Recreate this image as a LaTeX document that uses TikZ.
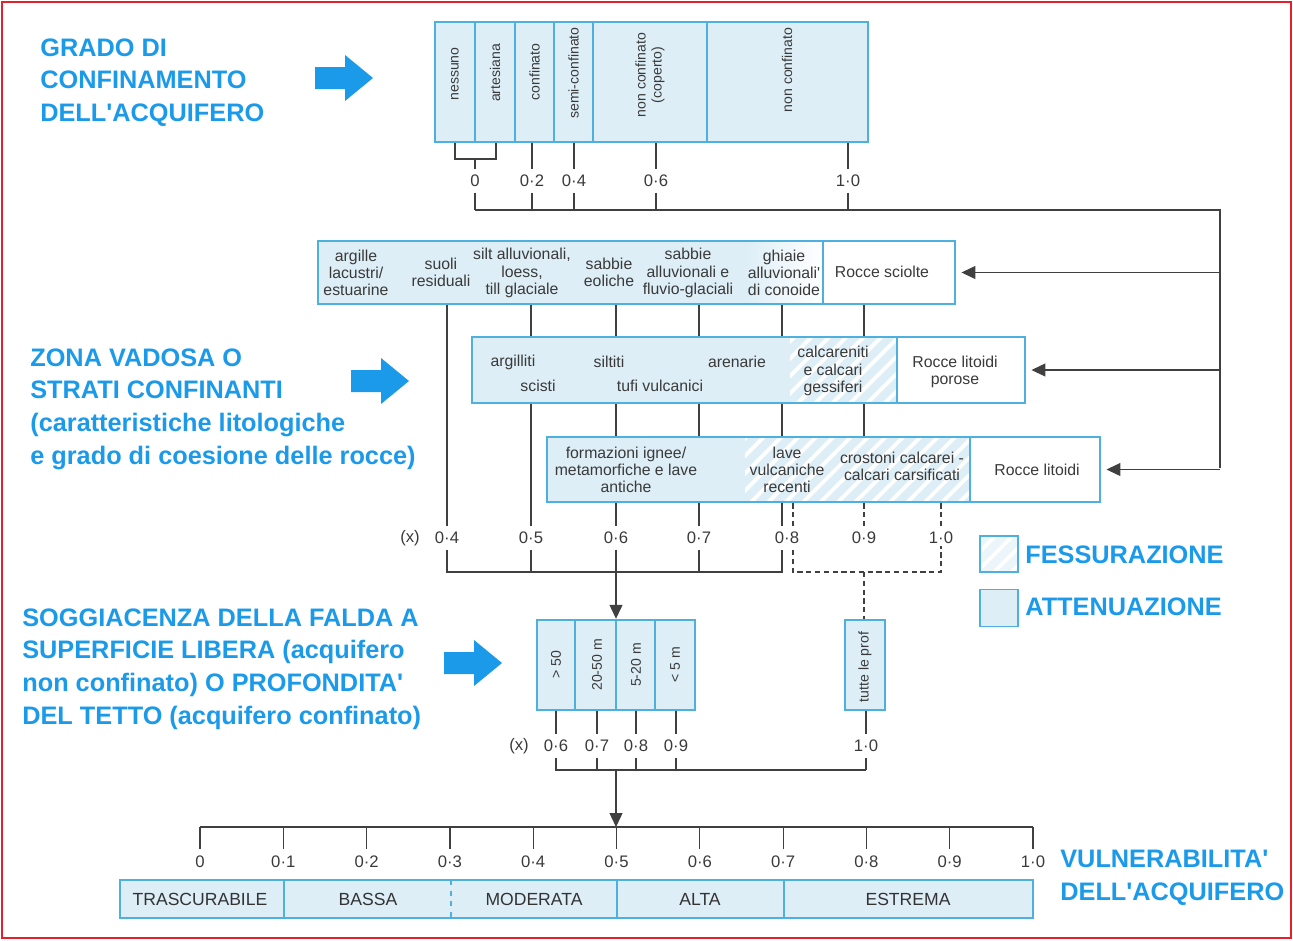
\documentclass[tikz,border=0pt]{standalone}
\usepackage{fontspec}
\setmainfont{Liberation Sans}
\usetikzlibrary{arrows.meta,positioning,patterns.meta,calc}
\definecolor{vuBlue}{HTML}{1C9AEA}
\definecolor{vuCell}{HTML}{DDEEF7}
\definecolor{vuEdge}{HTML}{4DB0DE}
\definecolor{vuInk}{HTML}{3A3A3A}
\definecolor{vuFrame}{HTML}{E5202A}

\begin{document}
\begin{tikzpicture}[x=0.02cm, y=-0.02cm,
  heading/.style={text=vuBlue, font=\fontsize{14.4}{18.6}\selectfont\bfseries, align=left, anchor=north west, inner sep=0pt},
  boxframe/.style={draw=vuEdge, line width=1.4pt, inner sep=0pt},
  lbl/.style={text=vuInk, font=\fontsize{9}{9.8}\selectfont, align=center, inner sep=0pt},
  vlbl/.style={lbl, font=\fontsize{8}{9.2}\selectfont, rotate=90},
  val/.style={text=vuInk, font=\fontsize{9.5}{11}\selectfont, inner sep=1pt},
  cls/.style={text=black!80, font=\fontsize{10}{12}\selectfont, inner sep=0pt},
  div/.style={draw=vuEdge, line width=0.8pt},
  lin/.style={draw=black!75, line width=0.7pt},
  dsh/.style={lin, dash pattern=on 3pt off 2pt},
  arr/.style={lin, -{Triangle[length=2.8mm, width=2.6mm]}},
  crack/.style={pattern={Lines[angle=45, distance=7pt, line width=2.2pt]}, pattern color=white},
  fatarrow/.pic={\fill[vuBlue] (0,-11) -- (30,-11) -- (30,-23) -- (58,0) -- (30,23) -- (30,11) -- (0,11) -- cycle;}
]
\useasboundingbox (0,0) rectangle (1293,940);
\draw[vuFrame, line width=1.2pt] (2,2) rectangle (1291,938);

\node[heading] (grado) at (40,38) {GRADO DI\\CONFINAMENTO\\DELL\textquotesingle ACQUIFERO};
\node[heading] (zona) at (30,348) {ZONA VADOSA O\\STRATI CONFINANTI\\(caratteristiche litologiche\\e grado di coesione delle rocce)};
\node[heading] (sogg) at (22,608) {SOGGIACENZA DELLA FALDA A\\SUPERFICIE LIBERA (acquifero\\non confinato) O PROFONDITA\textquotesingle\\DEL TETTO (acquifero confinato)};
\node[heading] (vuln) at (1060,850) {VULNERABILITA\textquotesingle\\DELL\textquotesingle ACQUIFERO};
\pic at (315,78) {fatarrow};
\pic at (351,381) {fatarrow};
\pic at (444,663) {fatarrow};

% grado di confinamento
\fill[vuCell] (435,22) rectangle (868,142);
\foreach \x in {475,515,554,593,707} \draw[div] (\x,22) -- (\x,142);
\node[boxframe, minimum width=8.66cm, minimum height=2.4cm] (conf) at (651.5,82) {};
\node[vlbl] (nessuno) at (455,74) {nessuno};
\node[vlbl] (artes) at (495,73) {artesiana};
\node[vlbl] (confin) at (534.5,72) {confinato};
\node[vlbl] (semi) at (573.5,73) {semi-confinato};
\node[vlbl] (coperto) at (650,75) {non confinato\\(coperto)};
\node[vlbl] (libero) at (787,70) {non confinato};

\node[val] (g0) at (475,181) {0};
\node[val] (g2) at (532,181) {0·2};
\node[val] (g4) at (574,181) {0·4};
\node[val] (g6) at (656,181) {0·6};
\node[val] (g10) at (848,181) {1·0};
\draw[lin] (nessuno |- conf.south) -- (nessuno |- 0,159) -- (496,159) -- (496,0 |- conf.south);
\draw[lin, shorten >=2pt] (g0 |- 0,159) -- (g0.north);
\foreach \v in {g2,g4,g6,g10} \draw[lin, shorten >=2pt] (\v |- conf.south) -- (\v.north);
\coordinate (bus) at (1220,210);
\foreach \v in {g0,g2,g4,g6,g10} \draw[lin, shorten <=2pt] (\v.south) -- (\v |- bus);
\draw[lin] (g0 |- bus) -- (bus) -- (1220,468);

% zona vadosa
\fill[vuCell] (318,241) rectangle (745,304);
\shade[left color=vuCell, right color=white] (745,241) rectangle (823,304);
\draw[div] (823,241) -- (823,304);
\node[boxframe, minimum width=12.74cm, minimum height=1.26cm] (sciolte) at (636.5,272.5) {};
\node[lbl] (argille) at (356,273) {argille\\lacustri/\\estuarine};
\node[lbl] (suoli) at (441,272) {suoli\\residuali};
\node[lbl] (silt) at (522,273) {silt alluvionali,\\loess,\\till glaciale};
\node[lbl] (eoliche) at (609,272) {sabbie\\eoliche};
\node[lbl] (fluvio) at (688,273) {sabbie\\alluvionali e\\fluvio-glaciali};
\node[lbl] (ghiaie) at (784,273) {ghiaie\\alluvionali\textquotesingle\\di conoide};
\node[lbl] (rsciolte) at (882,272) {Rocce sciolte};

\fill[vuCell] (472,337) rectangle (897,403);
\fill[crack] (790,337) rectangle (897,403);
\draw[div] (897,337) -- (897,403);
\node[boxframe, minimum width=11.06cm, minimum height=1.32cm] (porose) at (748.5,370) {};
\node[lbl] (argilliti) at (513,362) {argilliti};
\node[lbl] (scisti) at (538,386) {scisti};
\node[lbl] (siltiti) at (609,362) {siltiti};
\node[lbl] (tufi) at (660,386) {tufi vulcanici};
\node[lbl] (arenarie) at (737,362) {arenarie};
\node[lbl] (calcar) at (833,371) {calcareniti\\e calcari\\gessiferi};
\node[lbl] (rporose) at (955,372) {Rocce litoidi\\porose};

\fill[vuCell] (547,437) rectangle (970,502);
\fill[crack] (745,437) rectangle (970,502);
\draw[div] (970,437) -- (970,502);
\node[boxframe, minimum width=11.06cm, minimum height=1.3cm] (litoidi) at (823.5,469.5) {};
\node[lbl] (ignee) at (626,470) {formazioni ignee/\\metamorfiche e lave\\antiche};
\node[lbl] (lave) at (787,470) {lave\\vulcaniche\\recenti};
\node[lbl] (crostoni) at (902,466) {crostoni calcarei -\\calcari carsificati};
\node[lbl] (rlitoidi) at (1037,470) {Rocce litoidi};

\draw[arr, shorten >=3pt] (bus |- sciolte.east) -- (sciolte.east);
\draw[arr, shorten >=3pt] (bus |- porose.east) -- (porose.east);
\draw[arr, shorten >=3pt] (bus |- litoidi.east) -- (litoidi.east);

\node[val] (sx) at (410,538) {(x)};
\node[val] (s4) at (447,538) {0·4};
\node[val] (s5) at (531,538) {0·5};
\node[val] (s6) at (616,538) {0·6};
\node[val] (s7) at (699,538) {0·7};
\node[val] (s8) at (787,538) {0·8};
\node[val] (s9) at (864,538) {0·9};
\node[val] (s10) at (941,538) {1·0};
\draw[lin, shorten >=2pt] (s4 |- sciolte.south) -- (s4.north);
\draw[lin] (s5 |- sciolte.south) -- (s5 |- porose.north);
\draw[lin, shorten >=2pt] (s5 |- porose.south) -- (s5.north);
\foreach \v in {s6,s7} {
  \draw[lin] (\v |- sciolte.south) -- (\v |- porose.north);
  \draw[lin] (\v |- porose.south) -- (\v |- litoidi.north);
  \draw[lin, shorten >=2pt] (\v |- litoidi.south) -- (\v.north);
}
\draw[lin] (782,0 |- sciolte.south) -- (782,0 |- porose.north);
\draw[lin] (782,0 |- porose.south) -- (782,0 |- litoidi.north);
\draw[lin] (782,0 |- litoidi.south) -- (782,526);
\draw[dsh] (793,0 |- litoidi.south) -- (793,526);
\draw[lin] (s9 |- sciolte.south) -- (s9 |- porose.north);
\draw[lin] (s9 |- porose.south) -- (s9 |- litoidi.north);
\draw[dsh, shorten >=2pt] (s9 |- litoidi.south) -- (s9.north);
\draw[dsh, shorten >=2pt] (s10 |- litoidi.south) -- (s10.north);

\coordinate (jn) at (0,572);
\draw[lin, shorten <=2pt] (s4.south) -- (s4 |- jn) -- (782,572) -- (782,550);
\foreach \v in {s5,s6,s7} \draw[lin, shorten <=2pt] (\v.south) -- (\v |- jn);
\draw[dsh] (793,550) -- (793,572) -- (s10 |- jn) -- (s10.south);

% soggiacenza
\fill[vuCell] (537,620) rectangle (695,710);
\foreach \x in {575,616,655} \draw[div] (\x,620) -- (\x,710);
\node[boxframe, minimum width=3.16cm, minimum height=1.8cm] (depth) at (616,665) {};
\node[vlbl] (r1) at (556,665) {> 50};
\node[vlbl] (r2) at (597,665) {20-50 m};
\node[vlbl] (r3) at (636,665) {5-20 m};
\node[vlbl] (r4) at (675,665) {< 5 m};
\fill[vuCell] (845,620) rectangle (885,710);
\node[boxframe, minimum width=0.8cm, minimum height=1.8cm] (tutte) at (865,665) {};
\node[vlbl] (tprof) at (865,667) {tutte le prof};

\draw[arr] (s6 |- jn) -- (depth.north);
\draw[dsh] (s9 |- jn) -- (s9 |- tutte.north);

\node[val] (ex) at (519,746) {(x)};
\node[val] (e6) at (556,746) {0·6};
\node[val] (e7) at (597,746) {0·7};
\node[val] (e8) at (636,746) {0·8};
\node[val] (e9) at (676,746) {0·9};
\node[val] (e10) at (866,746) {1·0};
\foreach \v in {e6,e7,e8,e9} \draw[lin, shorten >=2pt] (\v |- depth.south) -- (\v.north);
\draw[lin, shorten >=2pt] (e10 |- tutte.south) -- (e10.north);
\coordinate (jd) at (0,770);
\draw[lin, shorten <=2pt] (e6.south) -- (e6 |- jd) -- (e10 |- jd);
\draw[lin, shorten >=2pt] (e10 |- jd) -- (e10.south);
\foreach \v in {e7,e8,e9} \draw[lin, shorten <=2pt] (\v.south) -- (\v |- jd);

% vulnerabilita
\coordinate (sc0) at (200,827);
\coordinate (sc10) at (1033,827);
\draw[lin] (sc0) -- (sc10);
\draw[arr] (depth |- jd) -- (depth |- sc0);
\foreach \i/\t in {0/0,1/0·1,2/0·2,3/0·3,4/0·4,5/0·5,6/0·6,7/0·7,8/0·8,9/0·9,10/1·0} {
  \pgfmathsetmacro\xx{200+83.3*\i}
  \node[val] (v\i) at (\xx,862) {\t};
  \draw[lin, shorten >=3pt] (v\i |- sc0) -- (v\i.north);
}
\fill[vuCell] (120,880) rectangle (1033,918);
\draw[div] (284,880) -- (284,918);
\draw[div, dashed] (451,880) -- (451,918);
\draw[div] (617,880) -- (617,918);
\draw[div] (784,880) -- (784,918);
\node[boxframe, minimum width=18.26cm, minimum height=0.76cm] (bar) at (576.5,899) {};
\node[cls] (k1) at (200,899) {TRASCURABILE};
\node[cls] (k2) at (368,899) {BASSA};
\node[cls] (k3) at (534,899) {MODERATA};
\node[cls] (k4) at (700,899) {ALTA};
\node[cls] (k5) at (908,899) {ESTREMA};

% legenda
\node[boxframe, line width=0.8pt, fill=white!40!vuCell, minimum width=0.76cm, minimum height=0.72cm] (fess) at (999,554) {};
\fill[crack] ([shift={(1pt,-1pt)}]fess.north west) rectangle ([shift={(-1pt,1pt)}]fess.south east);
\node[boxframe, line width=0.8pt, fill=vuCell, minimum width=0.76cm, minimum height=0.74cm] (atten) at (999,608) {};
\node[heading, anchor=west] (fesstxt) at (1025,555) {FESSURAZIONE};
\node[heading, anchor=west] (attentxt) at (1025,607) {ATTENUAZIONE};
\end{tikzpicture}
\end{document}
